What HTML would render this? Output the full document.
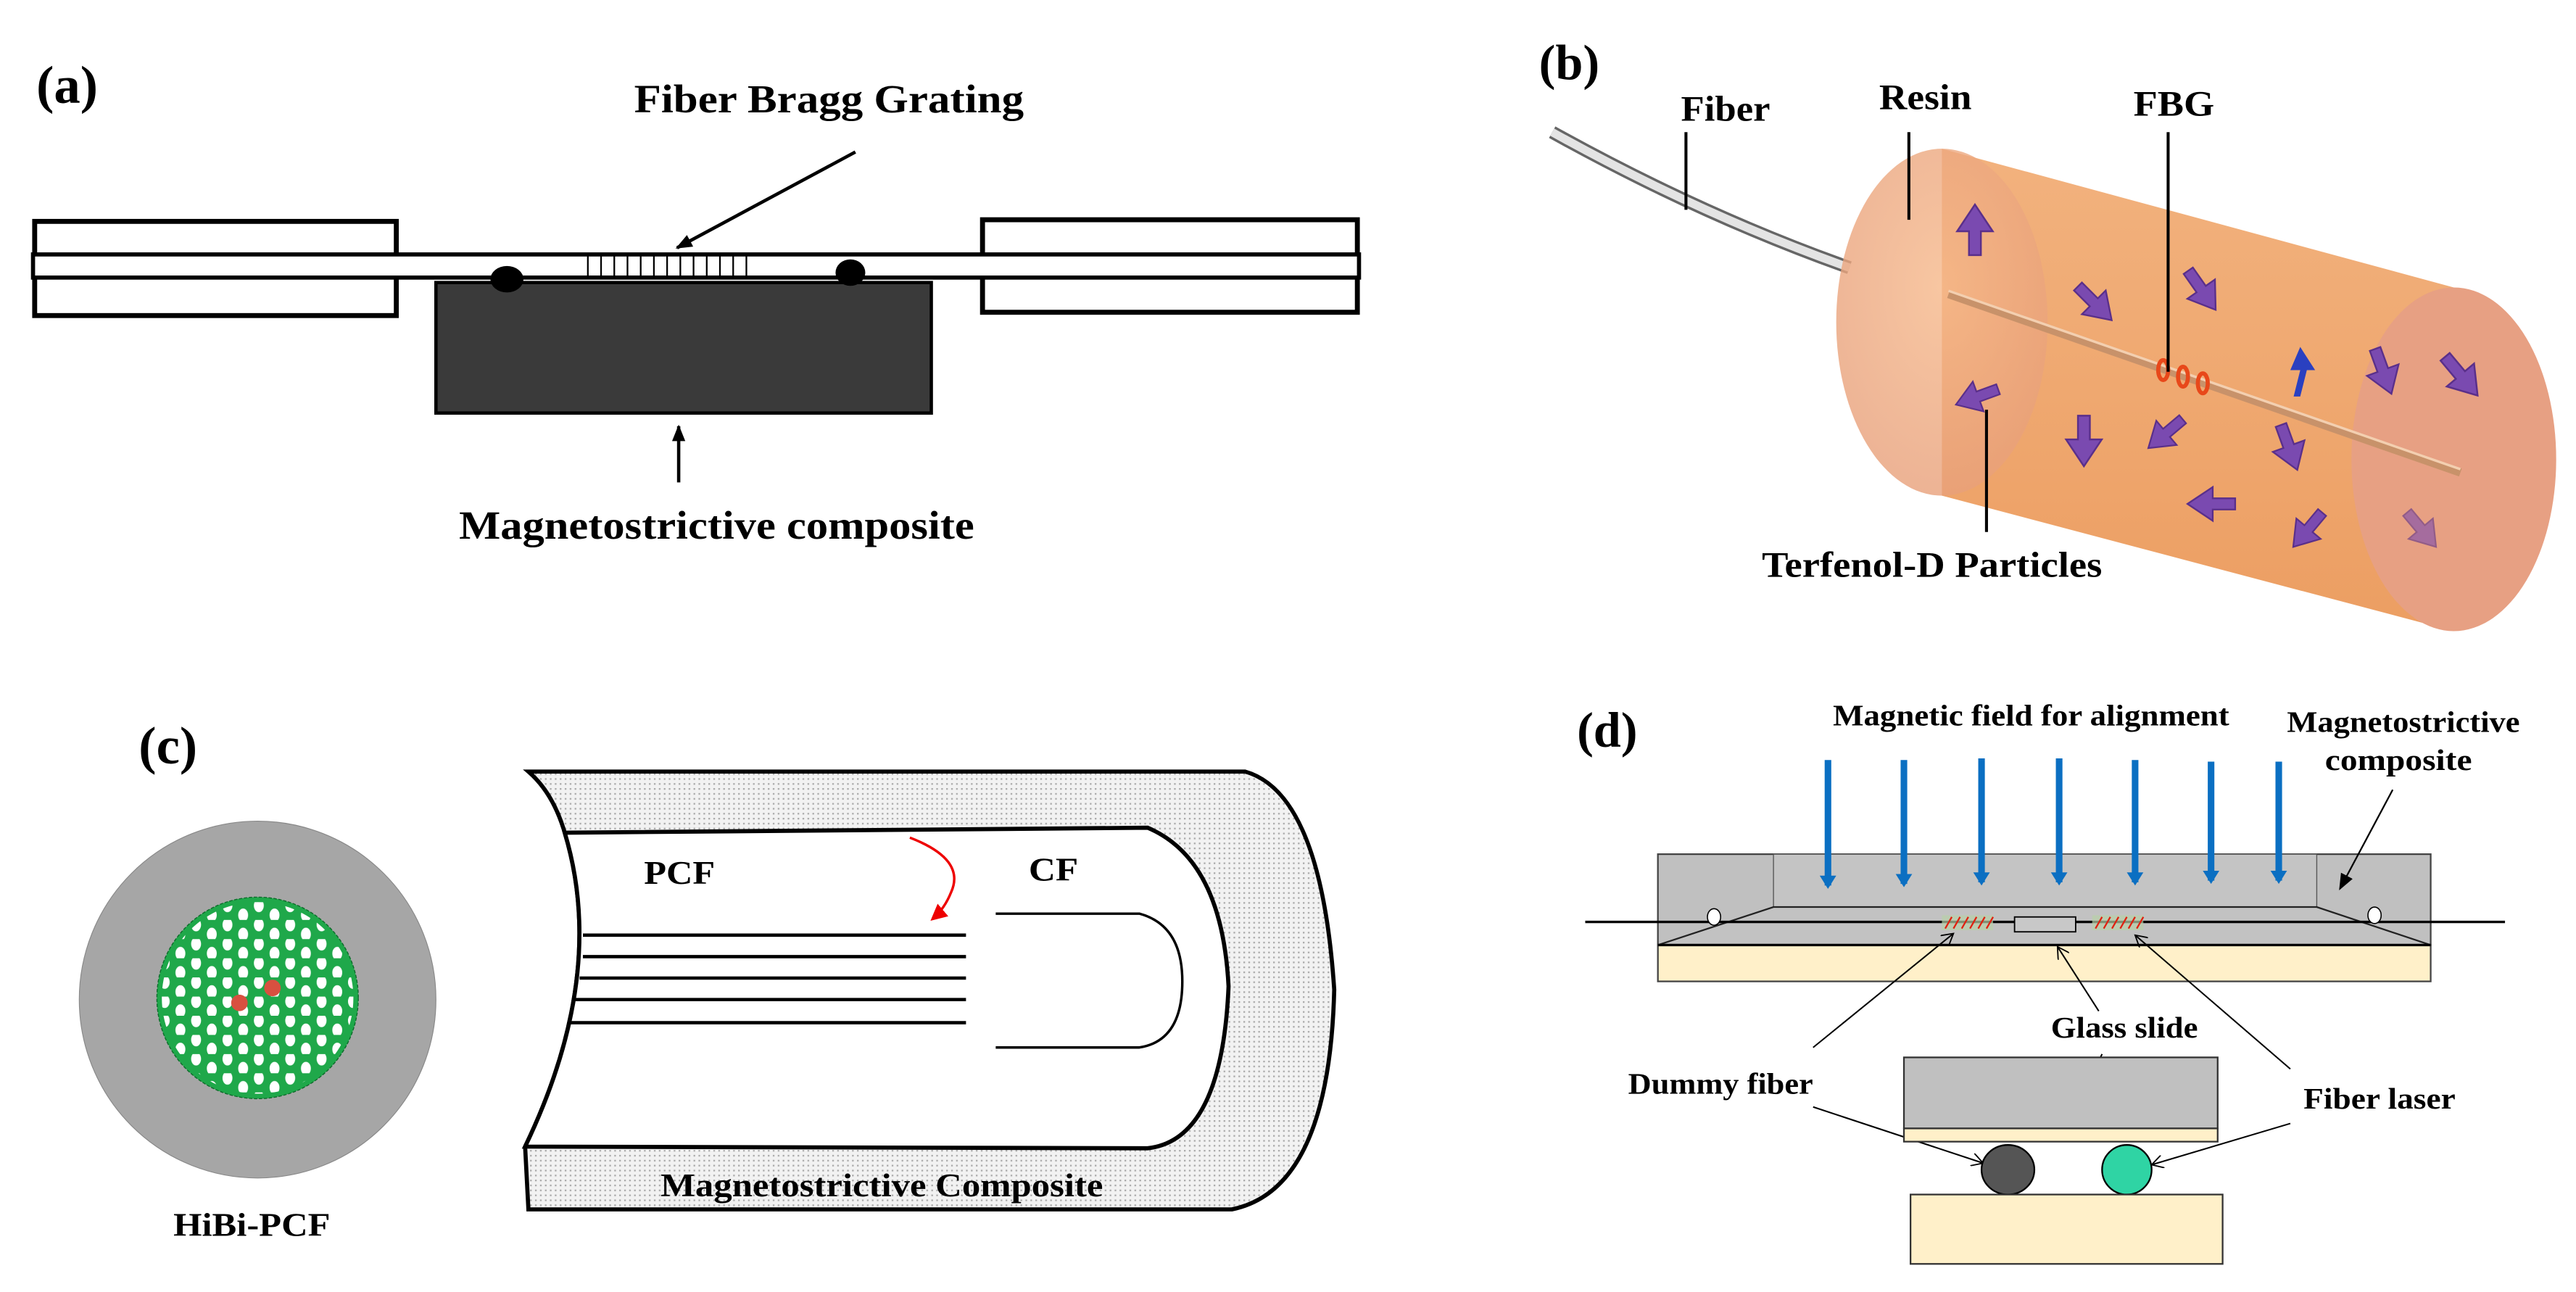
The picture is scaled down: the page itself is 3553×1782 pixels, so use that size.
<!DOCTYPE html>
<html><head><meta charset="utf-8"><style>
html,body{margin:0;padding:0;background:#fff}
svg{display:block}
text{font-family:"Liberation Serif",serif;font-weight:bold;fill:#000}
</style></head><body>
<svg width="3553" height="1782" viewBox="0 0 1560 782" preserveAspectRatio="none" xmlns="http://www.w3.org/2000/svg">
<defs>
<marker id="ah" markerWidth="10" markerHeight="10" refX="9" refY="5" orient="auto" markerUnits="userSpaceOnUse"><path d="M0,1 L10,5 L0,9 z" fill="#000"/></marker>
<marker id="ahs" markerWidth="8" markerHeight="8" refX="7" refY="4" orient="auto" markerUnits="userSpaceOnUse"><path d="M0,0 L7,4 L0,8" fill="none" stroke="#000" stroke-width="0.8"/></marker>
<marker id="ahr" markerWidth="10" markerHeight="10" refX="8" refY="5" orient="auto" markerUnits="userSpaceOnUse"><path d="M0,0 L10,5 L0,10 z" fill="#e00"/></marker>
<marker id="ahb" markerWidth="8" markerHeight="14" refX="6" refY="7" orient="auto" markerUnits="userSpaceOnUse"><path d="M0,2 L8,7 L0,12 z" fill="#0b6fc2"/></marker>
<pattern id="holes" x="0" y="0" width="19" height="11.6" patternUnits="userSpaceOnUse">
<ellipse cx="4.75" cy="2.9" rx="3" ry="4" fill="#fff"/>
<ellipse cx="14.25" cy="8.7" rx="3" ry="4" fill="#fff"/>
</pattern>
<clipPath id="gc"><circle cx="156" cy="604" r="58"/></clipPath>
<pattern id="stip" width="3" height="3" patternUnits="userSpaceOnUse"><rect width="3" height="3" fill="#f2f2f2"/><rect width="1" height="1" fill="#aaa"/></pattern>
<linearGradient id="cyl" x1="0" y1="0" x2="0" y2="1"><stop offset="0" stop-color="#f2b27e"/><stop offset="1" stop-color="#ec9e62"/></linearGradient>
<radialGradient id="face" cx="0.5" cy="0.4" r="0.6"><stop offset="0" stop-color="#f6b88a"/><stop offset="1" stop-color="#e8a07a"/></radialGradient>
<g id="pa"><path d="M0,-9 L6,0 L2,0 L2,8 L-2,8 L-2,0 L-6,0 z" fill="#7a4ab0" stroke="#5a2f8a" stroke-width="0.6"/></g>
</defs>

<!-- Panel (a) -->
<text x="22" y="62" font-size="32">(a)</text>
<text x="384" y="68" font-size="24" textLength="236" lengthAdjust="spacingAndGlyphs">Fiber Bragg Grating</text>
<line x1="518" y1="92" x2="410" y2="150" stroke="#000" stroke-width="2" marker-end="url(#ah)"/>
<rect x="21" y="134" width="219" height="57" fill="#fff" stroke="#000" stroke-width="3"/>
<rect x="595" y="133" width="227" height="56" fill="#fff" stroke="#000" stroke-width="3"/>
<rect x="20" y="154" width="803" height="14" fill="#fff" stroke="#000" stroke-width="2.5"/>
<g stroke="#000" stroke-width="1">
<line x1="356" y1="155" x2="356" y2="167"/><line x1="364" y1="155" x2="364" y2="167"/><line x1="372" y1="155" x2="372" y2="167"/><line x1="380" y1="155" x2="380" y2="167"/><line x1="388" y1="155" x2="388" y2="167"/><line x1="396" y1="155" x2="396" y2="167"/><line x1="404" y1="155" x2="404" y2="167"/><line x1="412" y1="155" x2="412" y2="167"/><line x1="420" y1="155" x2="420" y2="167"/><line x1="428" y1="155" x2="428" y2="167"/><line x1="436" y1="155" x2="436" y2="167"/><line x1="444" y1="155" x2="444" y2="167"/><line x1="452" y1="155" x2="452" y2="167"/>
</g>
<rect x="264" y="171" width="300" height="79" fill="#3a3a3a" stroke="#000" stroke-width="2"/>
<ellipse cx="307" cy="169" rx="10" ry="8" fill="#000"/>
<ellipse cx="515" cy="165" rx="9" ry="8" fill="#000"/>
<line x1="411" y1="292" x2="411" y2="258" stroke="#000" stroke-width="2" marker-end="url(#ah)"/>
<text x="278" y="326" font-size="24" textLength="312" lengthAdjust="spacingAndGlyphs">Magnetostrictive composite</text>

<!-- Panel (b) -->
<text x="932" y="48" font-size="30">(b)</text>
<path d="M940,80 Q1030,130 1120,162" fill="none" stroke="#666" stroke-width="8"/>
<path d="M940,80 Q1030,130 1120,162" fill="none" stroke="#e4e4e4" stroke-width="5"/>
<path d="M1176,90 L1486,174 L1486,382 L1176,300 z" fill="url(#cyl)"/>
<ellipse cx="1176" cy="195" rx="64" ry="105" fill="url(#face)" opacity="0.8"/>
<ellipse cx="1486" cy="278" rx="62" ry="104" fill="#e7a083"/>
<line x1="1180" y1="178" x2="1490" y2="286" stroke="#c8926a" stroke-width="5"/>
<line x1="1180" y1="176" x2="1490" y2="284" stroke="#f3cfb0" stroke-width="1.5"/>
<g fill="none" stroke="#e8481a" stroke-width="2.5">
<ellipse cx="1310" cy="224" rx="3" ry="6"/><ellipse cx="1322" cy="228" rx="3" ry="6"/><ellipse cx="1334" cy="232" rx="3" ry="6"/>
</g>
<use href="#pa" transform="translate(1196,140) scale(1.8)"/>
<use href="#pa" transform="translate(1268,183) rotate(135) scale(1.7)"/>
<use href="#pa" transform="translate(1333,175) rotate(145) scale(1.7)"/>
<path d="M1393,210 l9,14 l-5,0 l-4,16 l-4,0 l4,-16 l-6,0 z" fill="#2a40c0"/>
<use href="#pa" transform="translate(1443,224) rotate(160) scale(1.7)"/>
<use href="#pa" transform="translate(1490,227) rotate(140) scale(1.8)"/>
<use href="#pa" transform="translate(1198,240) rotate(-110) scale(1.6)"/>
<use href="#pa" transform="translate(1262,266) rotate(180) scale(1.8)"/>
<use href="#pa" transform="translate(1312,262) rotate(-130) scale(1.6)"/>
<use href="#pa" transform="translate(1386,270) rotate(160) scale(1.7)"/>
<use href="#pa" transform="translate(1340,305) rotate(-90) scale(1.7)"/>
<use href="#pa" transform="translate(1398,320) rotate(-140) scale(1.6)"/>
<use href="#pa" transform="translate(1466,320) rotate(140) scale(1.6)" opacity="0.6"/>
<g stroke="#000" stroke-width="1.8">
<line x1="1021" y1="80" x2="1021" y2="127"/>
<line x1="1156" y1="80" x2="1156" y2="133"/>
<line x1="1313" y1="80" x2="1313" y2="225"/>
<line x1="1203" y1="248" x2="1203" y2="322"/>
</g>
<text x="1018" y="73" font-size="22" textLength="54" lengthAdjust="spacingAndGlyphs">Fiber</text>
<text x="1138" y="66" font-size="22" textLength="56" lengthAdjust="spacingAndGlyphs">Resin</text>
<text x="1292" y="70" font-size="22" textLength="49" lengthAdjust="spacingAndGlyphs">FBG</text>
<text x="1067" y="349" font-size="22" textLength="206" lengthAdjust="spacingAndGlyphs">Terfenol-D Particles</text>

<!-- Panel (c) -->
<text x="84" y="462" font-size="32">(c)</text>
<ellipse cx="156" cy="605" rx="108" ry="108" fill="#a6a6a6" stroke="#888" stroke-width="0.5"/>
<circle cx="156" cy="604" r="61" fill="#1fa84a" stroke="#0d6a2a" stroke-width="0.6" stroke-dasharray="2,1"/>
<rect x="95" y="543" width="125" height="125" fill="url(#holes)" clip-path="url(#gc)"/>
<circle cx="145" cy="607" r="5" fill="#d85040"/>
<circle cx="165" cy="598" r="5" fill="#d85040"/>
<text x="105" y="748" font-size="20" textLength="95" lengthAdjust="spacingAndGlyphs">HiBi-PCF</text>
<path d="M320,467 L754,467 Q800,480 808,599 Q805,720 746,732 L320,732 L318,694 Q368,590 342,504 Q335,480 320,467 z" fill="url(#stip)" stroke="#000" stroke-width="2.5"/>
<path d="M342,504 L695,501 Q740,520 744,597 Q740,690 695,695 L318,694 Q368,590 342,504 z" fill="#fff" stroke="#000" stroke-width="2.5"/>
<g stroke="#000" stroke-width="2">
<line x1="353" y1="566" x2="585" y2="566"/><line x1="353" y1="579" x2="585" y2="579"/><line x1="351" y1="592" x2="585" y2="592"/><line x1="348" y1="605" x2="585" y2="605"/><line x1="345" y1="619" x2="585" y2="619"/>
</g>
<path d="M603,553 L690,553 Q716,560 716,594 Q716,630 690,634 L603,634" fill="none" stroke="#000" stroke-width="1.5"/>
<path d="M551,507 Q585,520 576,540 Q572,550 565,556" fill="none" stroke="#e00" stroke-width="1.5" marker-end="url(#ahr)"/>
<text x="390" y="535" font-size="20" textLength="43" lengthAdjust="spacingAndGlyphs">PCF</text>
<text x="623" y="533" font-size="20" textLength="30" lengthAdjust="spacingAndGlyphs">CF</text>
<text x="400" y="724" font-size="20" textLength="268" lengthAdjust="spacingAndGlyphs">Magnetostrictive Composite</text>

<!-- Panel (d) -->
<text x="955" y="452" font-size="30">(d)</text>
<text x="1110" y="439" font-size="18" textLength="240" lengthAdjust="spacingAndGlyphs">Magnetic field for alignment</text>
<text x="1385" y="443" font-size="18" textLength="141" lengthAdjust="spacingAndGlyphs">Magnetostrictive</text>
<text x="1408" y="466" font-size="18" textLength="89" lengthAdjust="spacingAndGlyphs">composite</text>
<rect x="1004" y="517" width="468" height="55" fill="#c0c0c0" stroke="#444" stroke-width="1"/>
<rect x="1074" y="517" width="329" height="32" fill="#c4c4c4" stroke="#555" stroke-width="0.6"/>
<path d="M1074,549 L1403,549 L1472,572 L1004,572 z" fill="#c2c2c2" stroke="#222" stroke-width="1"/>
<rect x="1004" y="572" width="468" height="22" fill="#fff0c9" stroke="#444" stroke-width="1"/>
<line x1="1004" y1="572" x2="1472" y2="572" stroke="#000" stroke-width="1.5"/>
<line x1="960" y1="558" x2="1517" y2="558" stroke="#000" stroke-width="1.5"/>
<ellipse cx="1038" cy="555" rx="4" ry="5" fill="#fff" stroke="#000" stroke-width="0.7"/>
<ellipse cx="1438" cy="554" rx="4" ry="5" fill="#fff" stroke="#000" stroke-width="0.7"/>
<rect x="1220" y="555" width="37" height="9" fill="#c8c8c8" stroke="#000" stroke-width="0.8"/>
<rect x="1176" y="554" width="31" height="9" fill="#b8d0a8" opacity="0.7"/>
<rect x="1267" y="554" width="31" height="9" fill="#b8d0a8" opacity="0.7"/>
<g stroke="#e02010" stroke-width="1">
<line x1="1178" y1="562" x2="1182" y2="555"/><line x1="1183" y1="562" x2="1187" y2="555"/><line x1="1188" y1="562" x2="1192" y2="555"/><line x1="1193" y1="562" x2="1197" y2="555"/><line x1="1198" y1="562" x2="1202" y2="555"/><line x1="1203" y1="562" x2="1207" y2="555"/>
<line x1="1269" y1="562" x2="1273" y2="555"/><line x1="1274" y1="562" x2="1278" y2="555"/><line x1="1279" y1="562" x2="1283" y2="555"/><line x1="1284" y1="562" x2="1288" y2="555"/><line x1="1289" y1="562" x2="1293" y2="555"/><line x1="1294" y1="562" x2="1298" y2="555"/>
</g>
<g stroke="#0b6fc2" stroke-width="4">
<line x1="1107" y1="460" x2="1107" y2="536" marker-end="url(#ahb)"/>
<line x1="1153" y1="460" x2="1153" y2="535" marker-end="url(#ahb)"/>
<line x1="1200" y1="459" x2="1200" y2="534" marker-end="url(#ahb)"/>
<line x1="1247" y1="459" x2="1247" y2="534" marker-end="url(#ahb)"/>
<line x1="1293" y1="460" x2="1293" y2="534" marker-end="url(#ahb)"/>
<line x1="1339" y1="461" x2="1339" y2="533" marker-end="url(#ahb)"/>
<line x1="1380" y1="461" x2="1380" y2="533" marker-end="url(#ahb)"/>
</g>
<line x1="1449" y1="478" x2="1417" y2="538" stroke="#000" stroke-width="1" marker-end="url(#ah)"/>
<g stroke="#000" stroke-width="0.9" fill="none" marker-end="url(#ahs)">
<line x1="1098" y1="634" x2="1183" y2="565"/>
<line x1="1271" y1="612" x2="1246" y2="573"/>
<line x1="1387" y1="647" x2="1293" y2="566"/>
<line x1="1098" y1="670" x2="1201" y2="704"/>
<line x1="1387" y1="680" x2="1303" y2="705"/>
<line x1="1273" y1="638" x2="1251" y2="683"/>
</g>
<text x="1242" y="628" font-size="18" textLength="89" lengthAdjust="spacingAndGlyphs">Glass slide</text>
<text x="986" y="662" font-size="18" textLength="112" lengthAdjust="spacingAndGlyphs">Dummy fiber</text>
<text x="1395" y="671" font-size="18" textLength="92" lengthAdjust="spacingAndGlyphs">Fiber laser</text>
<rect x="1153" y="640" width="190" height="43" fill="#c0c0c0" stroke="#333" stroke-width="1"/>
<rect x="1153" y="683" width="190" height="8" fill="#fff0c9" stroke="#333" stroke-width="1"/>
<ellipse cx="1216" cy="708" rx="16" ry="15" fill="#555" stroke="#000" stroke-width="1"/>
<ellipse cx="1288" cy="708" rx="15" ry="15" fill="#2fd4a4" stroke="#000" stroke-width="1"/>
<rect x="1157" y="723" width="189" height="42" fill="#fff0c9" stroke="#333" stroke-width="1"/>
</svg>
</body></html>
